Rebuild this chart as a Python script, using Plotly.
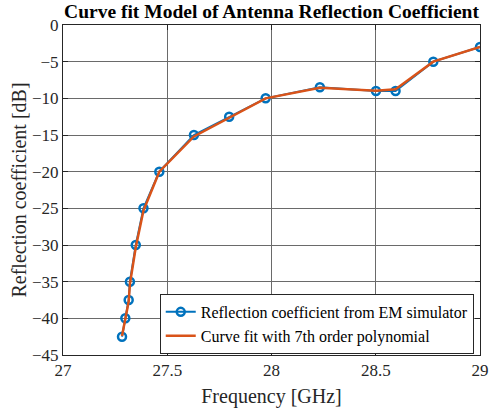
import plotly.graph_objects as go

freq_ghz = [27.283, 27.299, 27.315, 27.321, 27.349, 27.386, 27.462, 27.628, 27.797,
            27.972, 28.232, 28.501, 28.595, 28.776, 29.0]
s11_em = [-42.5, -40.0, -37.5, -35.0, -30.0, -25.0, -20.0, -15.0, -12.5,
          -10.0, -8.5, -9.0, -9.0, -5.0, -3.0]
s11_fit = [-42.4, -40.2, -37.7, -35.3, -30.3, -25.3, -20.0, -15.2, -12.6,
           -10.0, -8.55, -8.95, -8.75, -5.0, -3.0]

x_ticks = [27, 27.5, 28, 28.5, 29]
x_tick_text = ["27", "27.5", "28", "28.5", "29"]
y_ticks = [0, -5, -10, -15, -20, -25, -30, -35, -40, -45]

blue = "#0072BD"
orange = "#D95319"
serif = "Liberation Serif"

fig = go.Figure()
fig.add_trace(go.Scatter(
    x=freq_ghz, y=s11_em, mode="lines+markers",
    name="Reflection coefficient from EM simulator",
    line=dict(color=blue, width=2),
    marker=dict(symbol="circle-open", size=8, color=blue, line=dict(width=2.5, color=blue)),
))
fig.add_trace(go.Scatter(
    x=freq_ghz, y=s11_fit, mode="lines",
    name="Curve fit with 7th order polynomial",
    line=dict(color=orange, width=2.5),
))

axis_common = dict(
    showgrid=True, gridcolor="#6a6a6a", gridwidth=1,
    showline=True, linecolor="#262626", linewidth=1, mirror="allticks",
    ticks="inside", ticklen=5, tickcolor="#262626",
    zeroline=False,
    tickfont=dict(family=serif, size=17, color="#262626"),
)

fig.update_layout(
    width=498, height=416,
    margin=dict(l=63, r=9, t=25, b=61),
    paper_bgcolor="white", plot_bgcolor="white",
    title=dict(text="<b>Curve fit Model of Antenna Reflection Coefficient</b>",
               x=0.5, xref="paper", xanchor="center", y=0.99, yref="container", yanchor="top",
               pad=dict(t=0, b=0),
               font=dict(family=serif, size=19.5, color="black")),
    xaxis=dict(range=[27, 29], tickvals=x_ticks, ticktext=x_tick_text,
               title=dict(text="Frequency [GHz]", font=dict(family=serif, size=20, color="#262626"), standoff=9),
               **axis_common),
    yaxis=dict(range=[-45, 0], tickvals=y_ticks,
               title=dict(text="Reflection coefficient [dB]", font=dict(family=serif, size=20, color="#262626"), standoff=0),
               **axis_common),
    legend=dict(x=0.232, y=0.185, xanchor="left", yanchor="top",
                bgcolor="white", bordercolor="#262626", borderwidth=1,
                font=dict(family=serif, size=16, color="black"),
                tracegroupgap=0, itemwidth=30),
    showlegend=True,
)

fig.write_html("out.html", config={"displayModeBar": False},
               post_script="document.body.style.margin='0px';")
